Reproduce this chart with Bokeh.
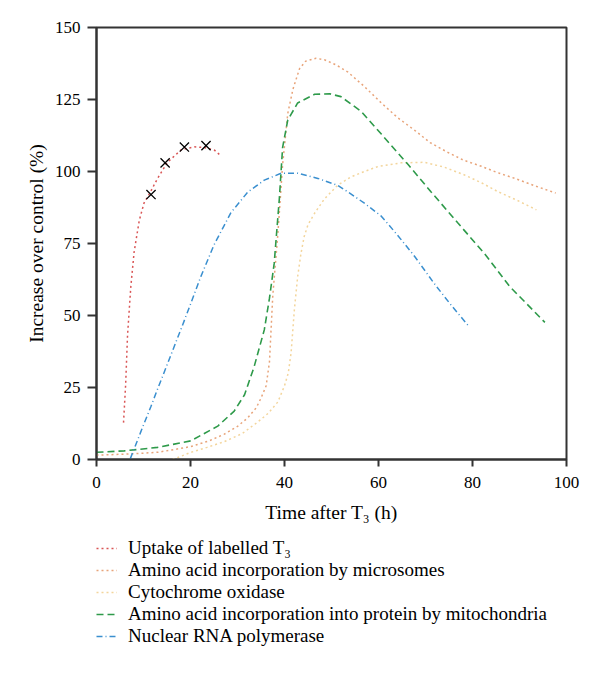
from bokeh.plotting import figure
from bokeh.models import Range1d, Legend, LegendItem, FixedTicker
from bokeh.layouts import column
from bokeh.embed import file_html
from bokeh.resources import INLINE

# ---- data ----
uptake_x = [5.75, 6.2, 6.6, 7.3, 8.0, 9.1, 10.1, 11.5, 13.0, 15.1, 18.0, 20.8, 23.0, 25.1, 26.5]
uptake_y = [12.8, 26, 43, 60, 72, 83, 89, 93, 97.6, 103.2, 107.5, 108.6, 108.3, 107.4, 105.4]

uptake_pts_x = [11.6, 14.6, 18.7, 23.3]
uptake_pts_y = [92, 103, 108.5, 109]

micro_x = [0, 5, 10, 13, 16, 20.1, 24, 27.2, 30, 32.2, 34, 35, 36.1, 36.8, 37.5, 38.6, 39.6, 40.7,
           41.8, 43.2, 44.5, 46.7, 48.5, 51, 53.5, 57, 60.6, 64, 67.7, 71, 74.8, 78, 81.9, 85, 89, 93, 97.7]
micro_y = [1.5, 1.8, 2.2, 2.5, 3.3, 4.5, 6.5, 8.8, 11.5, 14.5, 18, 21.3, 25.6, 33.9, 56.7, 78.6, 102.4, 120.2,
           128.6, 135.7, 138.3, 139.3, 138.8, 137, 134.5, 129.5, 123.8, 118.8, 114.3, 110, 106.6, 104, 101.8, 99.8, 97.6, 95.2, 92.5]

cyto_x = [16.2, 20.1, 23.5, 27.2, 31, 34.3, 36.5, 38.6, 40, 40.8, 41.4, 42.1, 42.8, 43.5, 44.2, 45.0, 46.4, 48.5,
          51.3, 54, 57, 60, 64.8, 69.8, 74, 78.3, 82, 85.4, 89.5, 93.6]
cyto_y = [0, 2.5, 4.2, 6.2, 9, 13, 16, 20, 25.6, 30, 37, 52, 63.5, 71.5, 77.5, 81.5, 85.5, 90.5,
          95.2, 98, 100, 101.8, 103, 103.2, 101.5, 98.8, 96, 93, 90, 86.7]

mito_x = [0, 5.9, 13, 20.1, 25.8, 29.3, 31.5, 33.5, 35.7, 36.8, 37.8, 38.9, 39.6, 40.7, 42.8, 46.4, 49.6,
          52, 56.3, 60.6, 66.3, 71.2, 76.9, 82.6, 87.9, 95.4]
mito_y = [2.5, 3, 4.2, 6.5, 11.6, 16.8, 22.5, 32, 45, 56, 68, 90.5, 108.4, 117.9, 123.8, 126.8, 127,
          126, 120.9, 113, 102.4, 92.9, 82.1, 71.4, 60.1, 47.6]

rna_x = [7.2, 9.4, 11.6, 13, 15.1, 18.7, 22.2, 25, 28.6, 32.2, 35.7, 39.3, 42.8, 47.1, 51.3, 53.5, 57,
         60.6, 64, 67.7, 71.9, 75.5, 79.4]
rna_y = [0.3, 9.5, 18.5, 24.5, 33.2, 48.3, 63.5, 74.5, 85.7, 92.9, 97, 99.4, 99.4, 97.6, 95.2, 92.9, 89,
         84.5, 78, 70.5, 61, 53.5, 45.9]

x_ticks = [0, 20, 40, 60, 80, 100]
y_ticks = [0, 25, 50, 75, 100, 125, 150]

labels = ["Uptake of labelled T\u2083",
          "Amino acid incorporation by microsomes",
          "Cytochrome oxidase",
          "Amino acid incorporation into protein by mitochondria",
          "Nuclear RNA polymerase"]

series_x = [uptake_x, micro_x, cyto_x, mito_x, rna_x]
series_y = [uptake_y, micro_y, cyto_y, mito_y, rna_y]

FONT = "Liberation Serif"

styles = [
    dict(line_color="#d95555", line_width=1.5, line_dash="2 3"),
    dict(line_color="#e8a47a", line_width=1.5, line_dash="2 3"),
    dict(line_color="#f3d59c", line_width=1.5, line_dash="2 3"),
    dict(line_color="#2e9a4a", line_width=1.6, line_dash="7 4"),
    dict(line_color="#3a8fcf", line_width=1.5, line_dash="6 3 1 3"),
]

p = figure(width=592, height=530, output_backend="svg", toolbar_location=None,
           x_range=Range1d(0, 100), y_range=Range1d(0, 150),
           min_border_left=96, min_border_right=26, min_border_top=27, min_border_bottom=71)

p.xgrid.visible = False
p.ygrid.visible = False
p.outline_line_color = "#333333"
p.outline_line_width = 2
p.background_fill_color = "white"
p.border_fill_color = "white"

for ax in (p.xaxis[0], p.yaxis[0]):
    ax.axis_line_width = 2
    ax.axis_line_color = "#333333"
    ax.major_tick_line_width = 2
    ax.major_tick_line_color = "#333333"
    ax.major_tick_in = 0
    ax.minor_tick_out = 0
    ax.minor_tick_in = 0
    ax.major_label_text_font = FONT
    ax.major_label_text_font_size = "17px"
    ax.major_label_text_color = "black"
    ax.axis_label_text_font = FONT
    ax.axis_label_text_font_size = "19.5px"
    ax.axis_label_text_font_style = "normal"
    ax.axis_label_text_color = "black"

p.xaxis.ticker = FixedTicker(ticks=x_ticks)
p.yaxis.ticker = FixedTicker(ticks=y_ticks)
p.xaxis.major_tick_out = 7
p.yaxis.major_tick_out = 9
p.xaxis.major_label_standoff = 10
p.yaxis.major_label_standoff = 7
p.xaxis.axis_label = "Time after T\u2083 (h)"
p.yaxis.axis_label = "Increase over control (%)"
p.xaxis.axis_label_standoff = 11
p.yaxis.axis_label_standoff = 5

for xs, ys, s in zip(series_x, series_y, styles):
    p.line(xs, ys, **s)
p.scatter(uptake_pts_x, uptake_pts_y, marker="x", size=13, line_color="black", line_width=1.3)

# legend panel below the chart (its lines sit outside the visible range; only the legend shows)
q = figure(width=592, height=150, output_backend="svg", toolbar_location=None,
           x_range=Range1d(0, 100), y_range=Range1d(1000, 1001),
           x_axis_type=None, y_axis_type=None, min_border=0)
q.xgrid.visible = False
q.ygrid.visible = False
q.outline_line_color = None
q.background_fill_color = "white"
q.border_fill_color = "white"

proxies = [q.line(xs, ys, **s) for xs, ys, s in zip(series_x, series_y, styles)]
legend = Legend(items=[LegendItem(label=l, renderers=[r]) for l, r in zip(labels, proxies)],
                location=(0, 33), orientation="vertical",
                glyph_width=21, glyph_height=22, label_height=22, spacing=0,
                label_standoff=11, padding=0, margin=0,
                label_text_font=FONT, label_text_font_size="19px", label_text_color="black",
                border_line_alpha=0, background_fill_alpha=0)
q.add_layout(legend)

layout = column(p, q, spacing=0)
open("out.html", "w").write(file_html(layout, INLINE))
